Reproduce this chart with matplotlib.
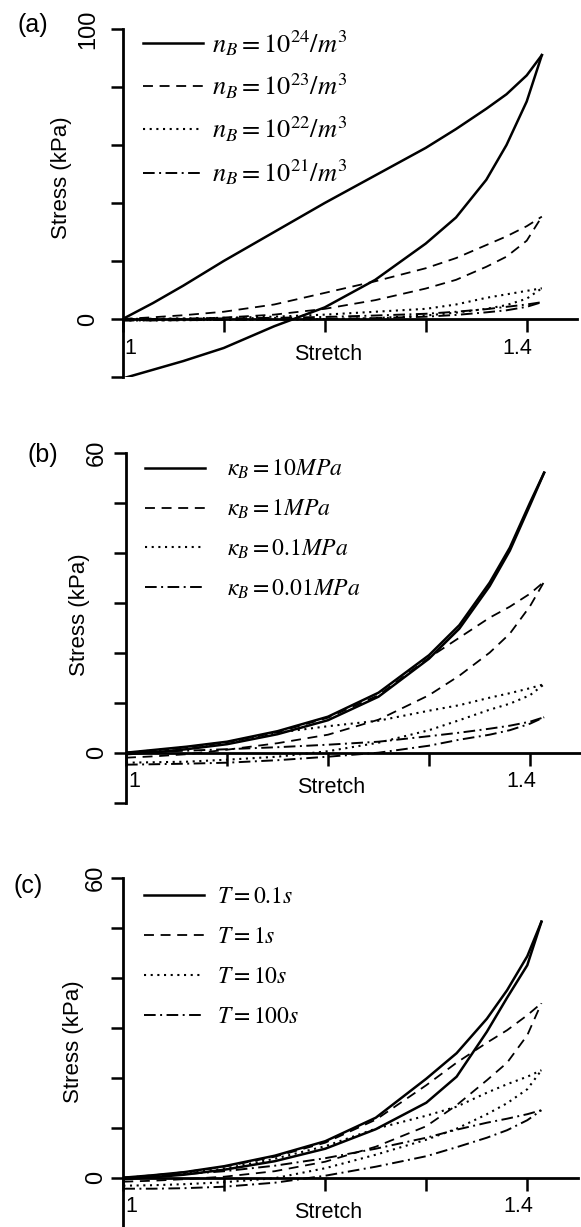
import matplotlib
matplotlib.use("Agg")
import matplotlib.pyplot as plt

plt.rcParams['font.family'] = ['Liberation Sans', 'DejaVu Sans']
plt.rcParams['mathtext.fontset'] = 'stix'

# stretch grid shared by all curves (loading: upper, unloading: lower)
stretch_a = [1.00, 1.03, 1.06, 1.10, 1.15, 1.20, 1.25, 1.30, 1.33, 1.36, 1.38, 1.40, 1.415]
stretch_b = [1.00, 1.03, 1.06, 1.10, 1.15, 1.20, 1.25, 1.30, 1.33, 1.36, 1.38, 1.40, 1.414]
stretch_c = [1.00, 1.03, 1.06, 1.10, 1.15, 1.20, 1.25, 1.30, 1.33, 1.36, 1.38, 1.40, 1.414]

# (a) number density n_B
labels_a = [r'$n_B=10^{24}/m^3$', r'$n_B=10^{23}/m^3$',
            r'$n_B=10^{22}/m^3$', r'$n_B=10^{21}/m^3$']
upper_a = [
    [0, 5.5, 11.5, 20, 30, 40, 49.5, 59, 65.5, 72.5, 77.5, 84, 91],
    [0, 0.6, 1.3, 2.5, 5, 9, 13, 17.5, 21, 25.5, 28.5, 32, 35.3],
    [0, 0.1, 0.2, 0.4, 0.8, 1.5, 2.5, 3.5, 5, 7.3, 8.5, 9.7, 10.6],
    [0, 0, 0.1, 0.2, 0.4, 0.7, 1.2, 1.8, 2.5, 3.4, 4.2, 5, 5.8],
]
lower_a = [
    [-20.5, -17.5, -14.5, -10, -2.5, 4, 13.5, 26, 35, 48, 60, 75, 91],
    [-0.5, -0.3, 0, 0.5, 1.5, 3.5, 6.5, 10.5, 13.5, 18, 21.5, 27, 35.3],
    [-0.5, -0.5, -0.4, -0.3, -0.2, 0, 0.3, 1.2, 2.2, 3.5, 4.8, 7, 10.6],
    [-0.5, -0.5, -0.4, -0.3, -0.2, 0, 0.3, 0.8, 1.4, 2.3, 3.0, 4.2, 5.8],
]

# (b) bulk modulus kappa_B
labels_b = [r'$\kappa_B=10MPa$', r'$\kappa_B=1MPa$',
            r'$\kappa_B=0.1MPa$', r'$\kappa_B=0.01MPa$']
upper_b = [
    [0, 0.6, 1.2, 2.2, 4.3, 7.2, 12, 19.5, 25.5, 34, 41, 50, 56],
    [0, 0.5, 1.1, 2.1, 4.1, 7, 11.5, 19, 23, 27, 29.2, 31.8, 34.2],
    [0, 0.5, 1.1, 2.1, 4.0, 5.3, 6.4, 8.4, 9.5, 11.0, 11.9, 12.9, 13.7],
    [0, 0.2, 0.4, 0.7, 1.1, 1.6, 2.2, 3.3, 4.0, 4.8, 5.4, 6.2, 7.1],
]
lower_b = [
    [-0.3, 0.1, 0.7, 1.7, 3.7, 6.5, 11.2, 18.8, 24.8, 33.3, 40.4, 49.5, 56],
    [-1.0, -0.7, -0.3, 0.6, 1.9, 3.6, 6.6, 11.5, 15.4, 20, 23.8, 29.3, 34.2],
    [-2.0, -1.9, -1.8, -1.4, -0.8, 0.3, 2.0, 4.5, 6.5, 8.6, 9.8, 11.5, 13.7],
    [-2.4, -2.3, -2.2, -2.0, -1.5, -0.8, 0, 1.4, 2.6, 3.6, 4.5, 5.8, 7.1],
]

# (c) relaxation time T
labels_c = [r'$T=0.1s$', r'$T=1s$', r'$T=10s$', r'$T=100s$']
upper_c = [
    [0, 0.5, 1.1, 2.3, 4.4, 7.3, 12, 19.8, 24.9, 31.8, 37.5, 44.3, 51.2],
    [0, 0.5, 1.1, 2.2, 4.2, 7, 11.6, 18.5, 23.0, 27.0, 29.5, 32.5, 34.9],
    [0, 0.4, 0.9, 1.8, 3.8, 6.3, 9.8, 12.4, 14.2, 17, 18.7, 20.2, 21.5],
    [0, 0.3, 0.7, 1.3, 2.4, 3.9, 5.8, 8.0, 9.6, 11.0, 11.8, 12.7, 13.5],
]
lower_c = [
    [-0.3, 0.1, 0.6, 1.6, 3.3, 5.8, 9.7, 15.0, 20.2, 29.2, 36, 42.5, 51.2],
    [-0.8, -0.6, -0.3, 0.2, 1.3, 3.2, 6.2, 10.3, 14.5, 19.5, 23, 28.5, 34.9],
    [-1.6, -1.5, -1.3, -0.9, -0.1, 1.9, 4.6, 7.6, 9.8, 12.7, 14.9, 17.7, 21.5],
    [-2.2, -2.2, -2.1, -1.8, -1.0, 0.4, 2.2, 4.3, 6.1, 8.0, 9.5, 11.5, 13.5],
]

styles = ['-', (0, (5.5, 3.7)), (0, (1, 2.2)), (0, (6, 2.3, 1, 2.3))]
widths = [1.8, 1.3, 1.5, 1.4]

W, H = 581, 1227
fig = plt.figure(figsize=(W / 100, H / 100), dpi=100)


def box(left, top, right, bottom):
    return [left / W, 1 - bottom / H, (right - left) / W, (bottom - top) / H]


def fpos(x, y):
    return x / W, 1 - y / H


def panel(ax, stretch, upper, lower, labels, ymin, ymax, ystep, ylabel_pad):
    for i in range(4):
        ax.plot(stretch, upper[i], color='black', lw=widths[i], ls=styles[i], label=labels[i])
        ax.plot(stretch, lower[i], color='black', lw=widths[i], ls=styles[i])
    ax.set_xlim(1.0, 1.45)
    ax.set_ylim(ymin, ymax)
    ax.spines['top'].set_visible(False)
    ax.spines['right'].set_visible(False)
    ax.spines['bottom'].set_position(('data', 0))
    ax.spines['left'].set_linewidth(2)
    ax.spines['bottom'].set_linewidth(2)
    ax.set_xticks([1.0, 1.1, 1.2, 1.3, 1.4])
    ax.set_xticklabels([])
    yt = list(range(ymin, ymax + 1, ystep))
    ax.set_yticks(yt)
    ax.set_yticklabels([str(v) if v in (0, ymax) else '' for v in yt])
    ax.tick_params(direction='out', length=9, width=1.8)
    ax.tick_params(axis='y', labelsize=17, labelrotation=90, pad=ylabel_pad)
    for t in ax.get_yticklabels():
        t.set_va('center')
    ax.annotate('1', xy=(1.0, 0), xytext=(8, -29), textcoords='offset pixels',
                ha='center', va='center', fontsize=15.5)
    ax.annotate('1.4', xy=(1.4, 0), xytext=(-9, -29), textcoords='offset pixels',
                ha='center', va='center', fontsize=15.5)
    ax.annotate('Stretch', xy=(1.2, 0), xytext=(3, -35), textcoords='offset pixels',
                ha='center', va='center', fontsize=15.5)


ax_a = fig.add_axes(box(122.7, 29, 122.7 + 454.5, 377))
panel(ax_a, stretch_a, upper_a, lower_a, labels_a, -20, 100, 20, 8)
ax_a.legend(loc='upper left', bbox_to_anchor=fpos(143, 28), bbox_transform=fig.transFigure,
            frameon=False, fontsize=19, handlelength=2.27, handletextpad=0.34,
            labelspacing=0.52, borderpad=0, borderaxespad=0)

ax_b = fig.add_axes(box(126, 452.7, 126 + 454.5, 802.7))
panel(ax_b, stretch_b, upper_b, lower_b, labels_b, -10, 60, 10, 4)
ax_b.legend(loc='upper left', bbox_to_anchor=fpos(145, 458), bbox_transform=fig.transFigure,
            frameon=False, fontsize=17, handlelength=2.54, handletextpad=0.92,
            labelspacing=0.7, borderpad=0, borderaxespad=0)

ax_c = fig.add_axes(box(123.3, 877.7, 123.3 + 454.5, 1227.7))
panel(ax_c, stretch_c, upper_c, lower_c, labels_c, -10, 60, 10, 3)
ax_c.legend(loc='upper left', bbox_to_anchor=fpos(144, 886), bbox_transform=fig.transFigure,
            frameon=False, fontsize=17, handlelength=2.54, handletextpad=0.55,
            labelspacing=0.76, borderpad=0, borderaxespad=0)

# panel letters and y labels
for letter, (x, y) in zip(['(a)', '(b)', '(c)'], [(33, 25), (43, 455), (28, 886)]):
    fig.text(*fpos(x, y), letter, fontsize=18, ha='center', va='center')
for (x, y) in [(61, 178), (79, 615), (74, 1042)]:
    fig.text(*fpos(x, y), 'Stress (kPa)', fontsize=16, rotation=90, ha='center', va='center')

fig.savefig('out.png', dpi=100)
